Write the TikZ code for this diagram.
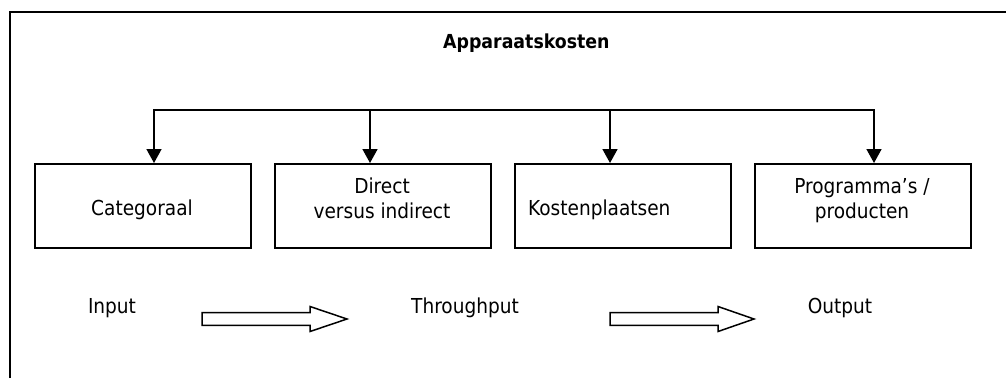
\documentclass[tikz,border=0pt]{standalone}
\usepackage{fontspec}
\setmainfont{DejaVu Sans Condensed}
\usetikzlibrary{arrows.meta}
\begin{document}
\begin{tikzpicture}[x=1pt,y=-1pt,
  box/.style={draw, line width=1.6pt, minimum width=216pt, minimum height=84pt, inner sep=0pt, anchor=north west},
  txt/.style={font=\fontsize{20.6}{25.3}\selectfont, inner sep=0pt, anchor=base, align=center},
  ttl/.style={font=\fontsize{19.3}{24}\selectfont\bfseries, inner sep=0pt, anchor=base west},
  bus/.style={line width=1.6pt, line cap=rect},
  conn/.style={line width=1.6pt, -{Triangle[length=14pt,width=15pt]}},
  hollow/.style={draw, line width=1.5pt, fill=white, line join=miter}]
\useasboundingbox (0,0) rectangle (1006,378);
% frame
\draw[line width=2pt] (10,378) -- (10,12) -- (1006,12);
% title
\node[ttl] (title) at (443,48) {Apparaatskosten};
% boxes
\node[box] (b1) at (34,163) {};
\node[box] (b2) at (274,163) {};
\node[box] (b3) at (514,163) {};
\node[box] (b4) at (754,163) {};
% box texts
\node[txt] (t1) at (142,215.5) {Categoraal};
\node[txt] (t2a) at (382,193) {Direct};
\node[txt] (t2b) at (382,218.5) {versus indirect};
\node[txt, anchor=base west] (t3) at (528,215.5) {Kostenplaatsen};
\node[txt] (t4a) at (862,193) {Programma’s /};
\node[txt] (t4b) at (862,218.5) {producten};
% distribution bus
\coordinate (j1) at (154,110);
\coordinate (j2) at (370,110);
\coordinate (j3) at (610,110);
\coordinate (j4) at (874,110);
\draw[bus] (j1) -- (j4);
\draw[conn] (j1) -- (j1 |- b1.north);
\draw[conn] (j2) -- (j2 |- b2.north);
\draw[conn] (j3) -- (j3 |- b3.north);
\draw[conn] (j4) -- (j4 |- b4.north);
% bottom row
\node[txt] (in) at (112,313) {Input};
\node[txt] (thr) at (465,313) {Throughput};
\node[txt] (out) at (840,313) {Output};
\draw[hollow] (202,312.7) -- (310,312.7) -- (310,306.5) -- (347,319) -- (310,331.5) -- (310,325.3) -- (202,325.3) -- cycle;
\draw[hollow] (610,312.7) -- (718,312.7) -- (718,306.5) -- (754,319) -- (718,331.5) -- (718,325.3) -- (610,325.3) -- cycle;
\end{tikzpicture}
\end{document}
